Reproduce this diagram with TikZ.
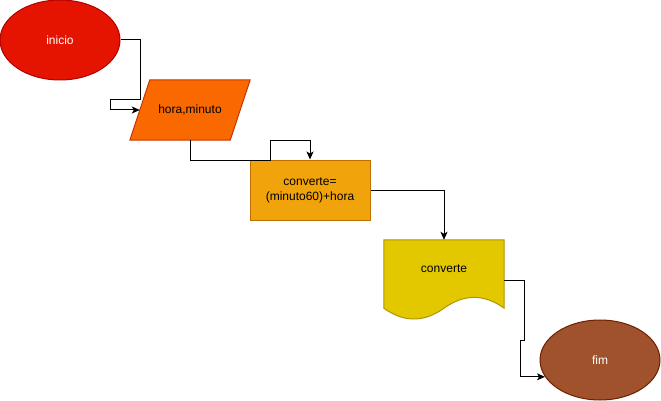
\documentclass[tikz,border=0pt]{standalone}
\usepackage{fontspec}
\setmainfont{Liberation Sans}
\usetikzlibrary{positioning,arrows.meta,shapes.geometric,calc,backgrounds}
\definecolor{startfill}{HTML}{E51400}
\definecolor{startline}{HTML}{B20000}
\definecolor{inputfill}{HTML}{FA6800}
\definecolor{inputline}{HTML}{C73500}
\definecolor{procfill}{HTML}{F0A30A}
\definecolor{procline}{HTML}{BD7000}
\definecolor{docfill}{HTML}{E3C800}
\definecolor{docline}{HTML}{B09500}
\definecolor{endfill}{HTML}{A0522D}
\definecolor{endline}{HTML}{6D1F00}

\begin{document}
\begin{tikzpicture}[x=1pt, y=-1pt,
    every node/.style={font=\fontsize{12}{15}\selectfont},
    terminal/.style={ellipse, draw, line width=1pt, minimum width=120pt, minimum height=80pt, inner sep=0pt, text=white},
    process/.style={rectangle, draw=procline, fill=procfill, line width=1pt, minimum width=120pt, minimum height=60pt, align=center},
    holder/.style={rectangle, inner sep=0pt},
    arrow/.style={-{Stealth[length=8pt, width=7pt, inset=2pt]}, line width=1pt},
]
\useasboundingbox (0,0) rectangle (661,401);

% Start and end
\node[terminal, draw=startline, fill=startfill] (inicio) at (60,40) {inicio};
\node[terminal, draw=endline, fill=endfill] (fim) at (600,360) {fim};

% Input, process, output
\node[holder, minimum width=100pt, minimum height=60pt] (entrada) at (190,110) {hora,minuto};
\node[process] (calculo) at (310,190) {converte=\\(minuto60)+hora};
\node[holder, minimum width=120pt, minimum height=80pt,
      label={[yshift=11pt]center:converte}] (saida) at (444,280) {};

% Outlines behind the texts
\begin{scope}[on background layer]
\draw[draw=inputline, fill=inputfill, line width=1pt]
    ($(entrada.north west)+(10,0)$) -- ($(entrada.north east)+(10,0)$)
    -- ($(entrada.south east)+(-10,0)$) -- ($(entrada.south west)+(-10,0)$) -- cycle;
\draw[draw=docline, fill=docfill, line width=1pt]
    (saida.north west) -- (saida.north east) -- ($(saida.south east)+(0,-12)$)
    .. controls ($(saida.south east)+(-20,-26.4)$) and ($(saida.south)+(20,-26.4)$) .. ($(saida.south)+(0,-12)$)
    .. controls ($(saida.south)+(-20,2.4)$) and ($(saida.south west)+(20,2.4)$) .. ($(saida.south west)+(0,-12)$)
    -- cycle;
\end{scope}

% Connectors
\draw[arrow] (inicio.east) -- ++(20,0) -- ++(0,60) -- ++(-30,0) |- (entrada.west);
\draw[arrow] (entrada.south) -- ++(0,20) -- ++(80,0) -- ++(0,-20) -- ++(40,0) -- (calculo.north);
\draw[arrow] (calculo.east) -| (saida.north);
\draw[arrow] (saida.east) -- ++(20,0) -- ++(0,60) -- ++(-4,0) |- (fim.197);
\end{tikzpicture}
\end{document}
